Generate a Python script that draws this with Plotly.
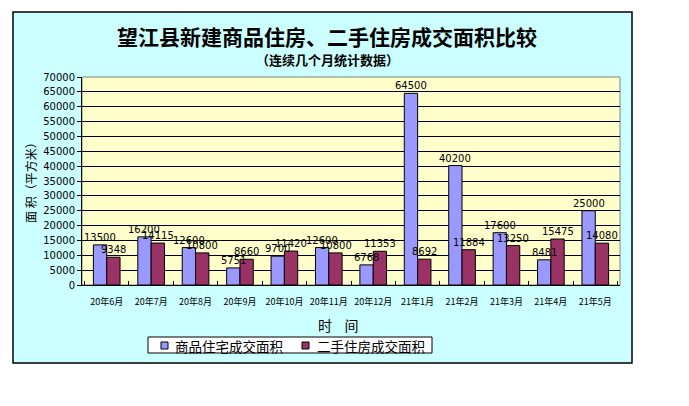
import plotly.graph_objects as go

months = ["20年6月", "20年7月", "20年8月", "20年9月", "20年10月", "20年11月",
          "20年12月", "21年1月", "21年2月", "21年3月", "21年4月", "21年5月"]
new_homes = [13500, 16200, 12600, 5751, 9700, 12600, 6768, 64500, 40200, 17600, 8481, 25000]
second_hand = [9348, 14115, 10800, 8660, 11420, 10800, 11353, 8692, 11884, 13250, 15475, 14080]
series_names = ["商品住宅成交面积", "二手住房成交面积"]
series_colors = ["#9999FF", "#993366"]
y_ticks = list(range(0, 70001, 5000))

W, H = 689, 406
L, R, T, B = 82, 620, 77, 285
pw, ph = R - L, B - T
BARGAP = 0.4

def px_x(x):
    return (x - L) / pw

def px_y(y):
    return (B - y) / ph

cjk = "Noto Sans CJK SC"
num_font = dict(family="DejaVu Sans", size=10, color="black")

fig = go.Figure()
series = [new_homes, second_hand]
for name, vals, col in zip(series_names, series, series_colors):
    fig.add_bar(x=months, y=vals, name=name,
                marker=dict(color=col, line=dict(color="black", width=1)),
                showlegend=False)

shapes = [
    dict(type="rect", xref="paper", yref="paper", layer="below",
         x0=px_x(13), x1=px_x(632), y0=px_y(363), y1=px_y(12),
         fillcolor="#CCFFFF", line=dict(color="black", width=1.5)),
    dict(type="rect", xref="paper", yref="paper", layer="below",
         x0=0, x1=1, y0=0, y1=1,
         fillcolor="#FFFFCC", line=dict(color="#808080", width=1)),
    # legend box
    dict(type="rect", xref="paper", yref="paper", layer="above",
         x0=px_x(148), x1=px_x(432), y0=px_y(353), y1=px_y(337),
         fillcolor="white", line=dict(color="black", width=1)),
]

annotations = [
    dict(text="<b>望江县新建商品住房、二手住房成交面积比较</b>", xref="paper", yref="paper",
         x=px_x(327), y=px_y(36), showarrow=False, xanchor="center", yanchor="middle",
         font=dict(family=cjk, size=21, color="black")),
    dict(text="<b>（连续几个月统计数据）</b>", xref="paper", yref="paper",
         x=px_x(327), y=px_y(59), showarrow=False, xanchor="center", yanchor="middle",
         font=dict(family=cjk, size=13, color="black")),
    dict(text="时    间", xref="paper", yref="paper",
         x=px_x(338), y=px_y(325), showarrow=False, xanchor="center", yanchor="middle",
         font=dict(family=cjk, size=14, color="black")),
    dict(text="面 积（平方米）", xref="paper", yref="paper", textangle=-90,
         x=px_x(30), y=px_y(180), showarrow=False, xanchor="center", yanchor="middle",
         font=dict(family=cjk, size=12, color="black")),
]

# legend entries
leg_sq = [(161, 167), (302, 308)]
leg_tx = [173, 315]
for (sx0, sx1), tx, name, col in zip(leg_sq, leg_tx, series_names, series_colors):
    shapes.append(dict(type="rect", xref="paper", yref="paper", layer="above",
                       x0=px_x(sx0), x1=px_x(sx1 + 1), y0=px_y(349), y1=px_y(342),
                       fillcolor=col, line=dict(color="black", width=1)))
    annotations.append(dict(text=name, xref="paper", yref="paper",
                            x=px_x(tx), y=px_y(346), showarrow=False,
                            xanchor="left", yanchor="middle",
                            font=dict(family=cjk, size=13.5, color="black")))

# data labels above each bar
cat_px = pw / len(months)
bar_w = (1 - BARGAP) / 2
offsets = [-bar_w / 2 * cat_px, bar_w / 2 * cat_px]
for vals, off in zip(series, offsets):
    for m, v in zip(months, vals):
        annotations.append(dict(text=str(v), x=m, y=v, xref="x", yref="y",
                                xshift=off, yshift=0, showarrow=False,
                                xanchor="center", yanchor="bottom",
                                font=num_font))

fig.update_layout(
    width=W, height=H,
    margin=dict(l=L, r=W - R, t=T, b=H - B, autoexpand=False),
    paper_bgcolor="white", plot_bgcolor="#FFFFCC",
    barmode="group", bargap=BARGAP, bargroupgap=0,
    shapes=shapes, annotations=annotations,
    showlegend=False,
)
fig.update_xaxes(showline=True, linecolor="black", linewidth=1,
                 ticks="inside", tickson="boundaries", ticklen=4, tickcolor="black",
                 tickangle=0, ticklabelstandoff=8,
                 tickfont=dict(family=cjk, size=9, color="black"),
                 showgrid=False)
fig.update_yaxes(range=[0, 70000], tickvals=y_ticks, ticktext=[str(v) for v in y_ticks],
                 showline=True, linecolor="black", linewidth=1,
                 ticks="outside", ticklen=4, tickcolor="black",
                 tickfont=dict(family="DejaVu Sans", size=10, color="black"),
                 showgrid=True, gridcolor="black", gridwidth=1, zeroline=False)

fig.write_html("out.html")
